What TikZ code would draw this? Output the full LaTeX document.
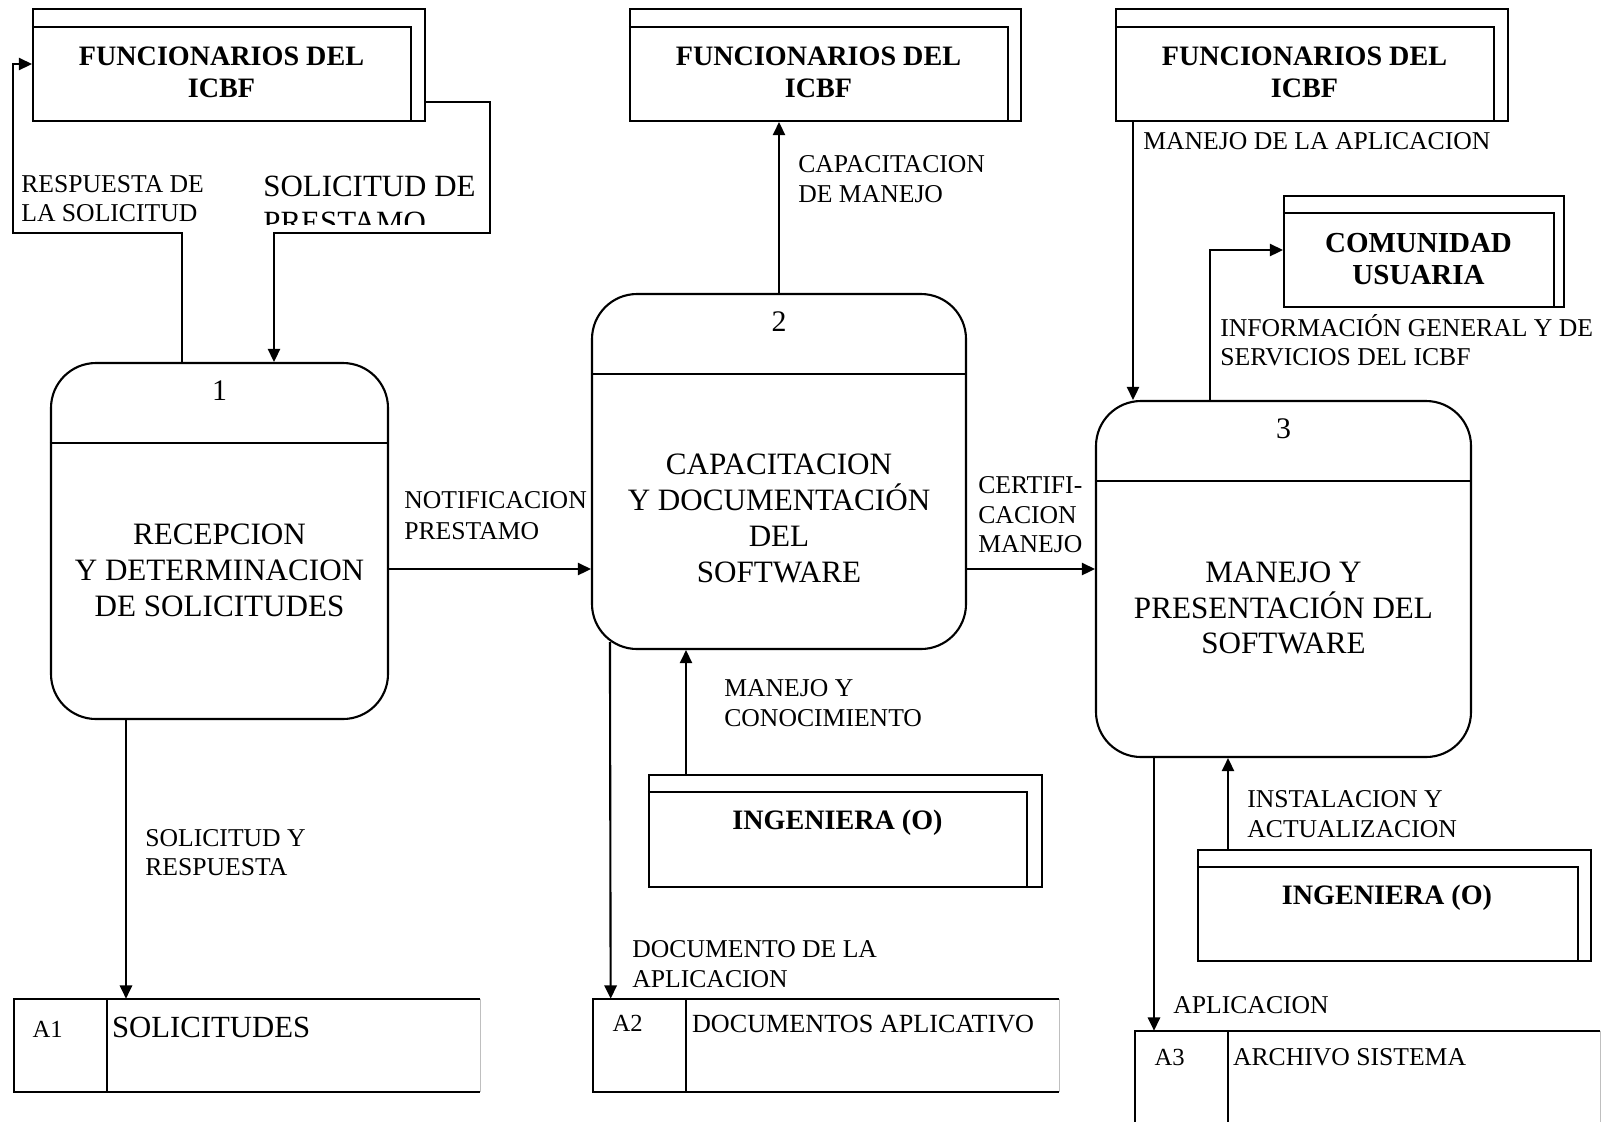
\documentclass[tikz,border=0pt]{standalone}
\usepackage{fontspec}
\setmainfont{Liberation Serif}
\usetikzlibrary{calc,arrows.meta}
\newcommand{\pxu}{0.2mm}
\tikzset{
  base/.style={draw=black, line width=1.2pt},
  faint/.style={draw=black!25, line width=0.6pt},
  flow/.style={base, -{Triangle[length=7.5pt,width=7pt]}},
  ent/.style={draw=black, line width=1.2pt, rectangle, inner sep=0pt},
  proc/.style={draw=black, line width=1.2pt, rectangle, rounded corners=9mm, inner sep=0pt},
  store/.style={rectangle, inner sep=0pt},
  enttxt/.style={font=\bfseries\fontsize{16}{18.2}\selectfont, align=center, inner sep=0pt},
  ptxt/.style={font=\fontsize{17.7}{20.4}\selectfont, align=center, inner sep=0pt},
  pnum/.style={font=\fontsize{17}{20}\selectfont, inner sep=0pt},
  lab/.style={font=\fontsize{14.6}{16.8}\selectfont, align=left, anchor=west, inner sep=0pt},
  sid/.style={font=\fontsize{14}{16}\selectfont, inner sep=0pt},
}

\begin{document}
\begin{tikzpicture}[x=0.2mm,y=-0.2mm]
  \useasboundingbox (0,0) rectangle (1601,1121);
  % external entities
  \node[ent, minimum width=392*\pxu, minimum height=112*\pxu] (e1) at (229,65) {};
  \node[ent, minimum width=391*\pxu, minimum height=112*\pxu] (e2) at (825.5,65) {};
  \node[ent, minimum width=392*\pxu, minimum height=112*\pxu] (e3) at (1312,65) {};
  \node[ent, minimum width=280*\pxu, minimum height=111*\pxu] (com) at (1424,251.5) {};
  \node[ent, minimum width=393*\pxu, minimum height=112*\pxu] (ing1) at (845.5,831) {};
  \node[ent, minimum width=393*\pxu, minimum height=111*\pxu] (ing2) at (1394.5,905.5) {};
  \foreach \e/\dx/\dy in {e1/15/19, e2/14/19, e3/15/19, com/11/18, ing1/16/18, ing2/14/18}
    \draw[base] ($(\e.north west)+(0,\dy)$) -| ($(\e.south east)+(-\dx,0)$);
  \node[enttxt] (e1t) at (221.5,72) {FUNCIONARIOS DEL\\ICBF};
  \node[enttxt] (e2t) at (818.5,72) {FUNCIONARIOS DEL\\ICBF};
  \node[enttxt] (e3t) at (1304.5,72) {FUNCIONARIOS DEL\\ICBF};
  \node[enttxt, font=\bfseries\fontsize{16.5}{18.6}\selectfont] (comt) at (1418.5,259) {COMUNIDAD\\USUARIA};
  \node[enttxt] (ing1t) at (837.5,823) {INGENIERA (O)};
  \node[enttxt] (ing2t) at (1387,898) {INGENIERA (O)};

  % processes
  \node[proc, minimum width=337*\pxu, minimum height=356*\pxu] (p1) at (219.5,541) {};
  \node[proc, minimum width=374*\pxu, minimum height=355*\pxu] (p2) at (779,471.5) {};
  \node[proc, minimum width=375*\pxu, minimum height=356*\pxu] (p3) at (1283.5,579) {};
  \foreach \p/\n in {p1/1, p2/2, p3/3}{
    \draw[base] ($(\p.north west)+(0,81)$) -- ($(\p.north east)+(0,81)$);
    \node[pnum] (\p-n) at ($(\p.north)+(0,29)$) {\n};
  }
  \node[ptxt] (p1t) at (219.5,570.5) {RECEPCION\\Y DETERMINACION\\DE SOLICITUDES};
  \node[ptxt] (p2t) at (779,518.5) {CAPACITACION\\Y DOCUMENTACIÓN\\DEL\\SOFTWARE};
  \node[ptxt] (p3t) at (1283.5,608) {MANEJO Y\\PRESENTACIÓN DEL\\SOFTWARE};

  % data stores
  \node[store, minimum width=466*\pxu, minimum height=93*\pxu] (a1) at (247,1045.5) {};
  \node[store, minimum width=466*\pxu, minimum height=93*\pxu] (a2) at (826,1045.5) {};
  \node[store, minimum width=465*\pxu, minimum height=93*\pxu] (a3) at (1367.5,1077.5) {};
  \foreach \s in {a1,a2,a3}{
    \draw[base] (\s.north east) -- (\s.north west) -- (\s.south west) -- (\s.south east);
    \draw[faint] (\s.north east) -- (\s.south east);
    \draw[base] ($(\s.north west)+(93,0)$) -- ($(\s.south west)+(93,0)$);
  }
  \node[sid] (a1-id) at ($(a1.north west)+(34,31)$) {A1};
  \node[sid] (a2-id) at ($(a2.north west)+(35,25)$) {A2};
  \node[sid] (a3-id) at ($(a3.north west)+(35,26.5)$) {A3};
  \node[lab, font=\fontsize{17.5}{20}\selectfont] (a1-nm) at ($(a1.north west)+(98,29)$) {SOLICITUDES};
  \node[lab, font=\fontsize{14.9}{17}\selectfont] (a2-nm) at ($(a2.north west)+(99,25)$) {DOCUMENTOS APLICATIVO};
  \node[lab] (a3-nm) at ($(a3.north west)+(98,26.5)$) {ARCHIVO SISTEMA};

  % flows
  \coordinate (rs) at (13,64);
  \coordinate (rb) at (182,233);
  \draw[flow] (p1.north -| rb) -- (rb) -| (rs) -- (e1.west |- rs);
  \coordinate (sa) at (490,102);
  \coordinate (sb) at (274,233);
  \draw[flow] (e1.east |- sa) -- (sa) |- (sb) -- (p1.north -| sb);
  \coordinate (fy) at (0,569);
  \draw[flow] (p1.east |- fy) -- (p2.west |- fy);
  \draw[flow] (p2.east |- fy) -- (p3.west |- fy);
  \draw[flow] (p2.north) -- (p2.north |- e2.south);
  \coordinate (mx) at (1133,0);
  \draw[flow] (e3.south -| mx) -- (p3.north -| mx);
  \coordinate (cx) at (1210,250);
  \draw[flow] (p3.north -| cx) |- (com.west |- cx);
  \coordinate (kx) at (686,0);
  \draw[flow] (ing1.north -| kx) -- (p2.south -| kx);
  \coordinate (ix) at (1228,0);
  \draw[flow] (ing2.north -| ix) -- (p3.south -| ix);
  \coordinate (ax) at (126,0);
  \draw[flow] (p1.south -| ax) -- (a1.north -| ax);
  \draw[flow] ($(p2.south west)+(19,-8)$) -- ($(a2.north west)+(18,0)$);
  \coordinate (bx) at (1154,0);
  \draw[flow] (p3.south -| bx) -- (a3.north -| bx);

  % flow labels
  \node[lab] (l-resp) at (21,198.5) {RESPUESTA DE\\LA SOLICITUD};
  \begin{scope}
    \clip (250,150) rectangle (486,224);
    \node[lab, font=\fontsize{17.6}{20.5}\selectfont] (l-solp) at (263,204) {SOLICITUD DE\\PRESTAMO};
  \end{scope}
  \node[lab, font=\fontsize{14.6}{17.6}\selectfont] (l-notif) at (404,515.5) {NOTIFICACION\\PRESTAMO};
  \node[lab] (l-capm) at (798,179) {CAPACITACION\\DE MANEJO};
  \node[lab] (l-cert) at (978,514.7) {CERTIFI-\\CACION\\MANEJO};
  \node[lab] (l-manap) at (1143,141) {MANEJO DE LA APLICACION};
  \node[lab] (l-info) at (1220,340) {INFORMACIÓN GENERAL Y DE\\SERVICIOS DEL ICBF};
  \node[lab, font=\fontsize{14.6}{17}\selectfont] (l-mcon) at (724,703) {MANEJO Y\\CONOCIMIENTO};
  \node[lab] (l-inst) at (1247,814) {INSTALACION Y\\ACTUALIZACION};
  \node[lab] (l-solr) at (145,852.5) {SOLICITUD Y\\RESPUESTA};
  \node[lab] (l-docap) at (632,964) {DOCUMENTO DE LA\\APLICACION};
  \node[lab] (l-aplic) at (1173,1005) {APLICACION};
\end{tikzpicture}
\end{document}
